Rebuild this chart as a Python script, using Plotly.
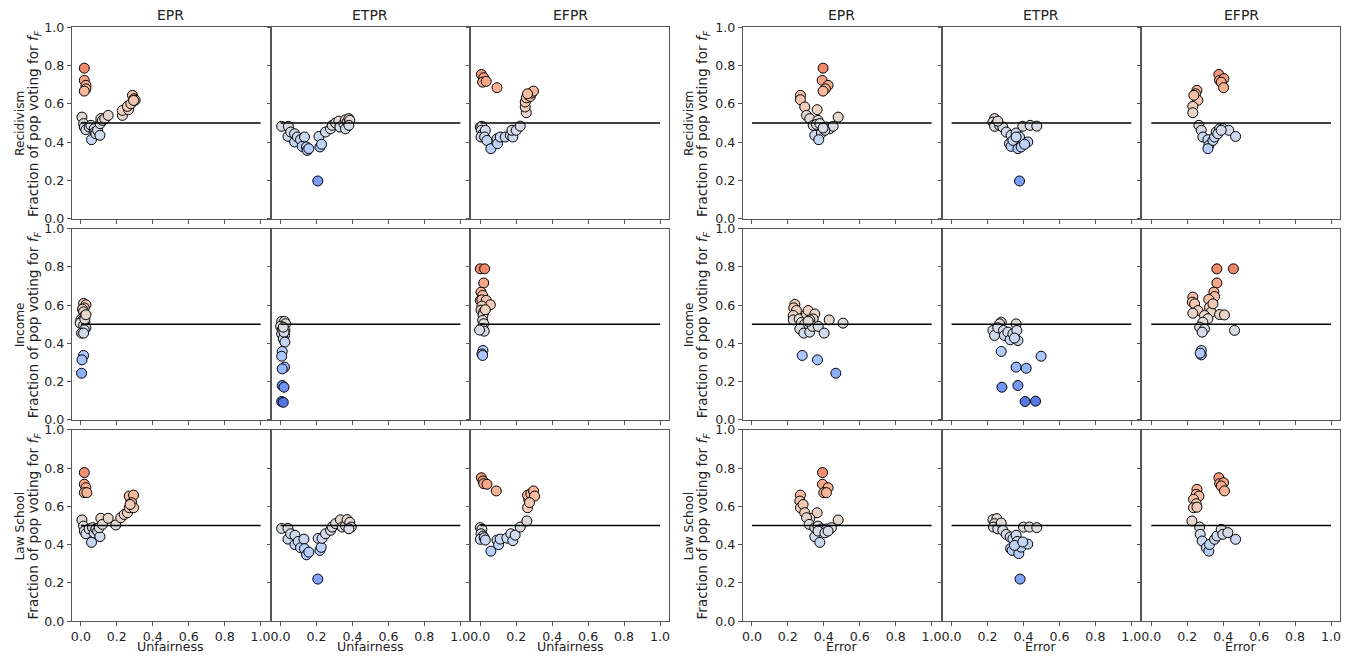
import plotly.graph_objects as go

# ---------------- data ----------------
datasets = ["Recidivism", "Income", "Law School"]
metrics = ["EPR", "ETPR", "EFPR"]
x_titles = ["Unfairness", "Error"]
tick_vals = [0.0, 0.2, 0.4, 0.6, 0.8, 1.0]
reference_level = 0.5
reference_x = [0.0, 1.0]

# Recidivism
rec_epr_unf_x = [0.019, 0.019, 0.028, 0.028, 0.019, 0.006, 0.015, 0.019, 0.028, 0.046, 0.056, 0.059, 0.074, 0.078, 0.083, 0.093, 0.106, 0.107, 0.111, 0.120, 0.133, 0.152, 0.231, 0.231, 0.265, 0.259, 0.278, 0.287, 0.296, 0.302, 0.293]
rec_epr_unf_y = [0.787, 0.723, 0.697, 0.679, 0.667, 0.531, 0.497, 0.479, 0.465, 0.479, 0.488, 0.413, 0.470, 0.453, 0.444, 0.462, 0.436, 0.497, 0.523, 0.514, 0.523, 0.540, 0.540, 0.566, 0.570, 0.587, 0.601, 0.645, 0.627, 0.619, 0.618]
rec_epr_err_x = [0.396, 0.391, 0.424, 0.409, 0.396, 0.270, 0.270, 0.294, 0.363, 0.304, 0.322, 0.480, 0.368, 0.341, 0.359, 0.378, 0.415, 0.433, 0.452, 0.350, 0.387, 0.372, 0.406, 0.396]
rec_epr_err_y = [0.787, 0.723, 0.697, 0.679, 0.667, 0.645, 0.622, 0.584, 0.570, 0.540, 0.523, 0.531, 0.514, 0.488, 0.493, 0.497, 0.479, 0.470, 0.483, 0.436, 0.448, 0.413, 0.462, 0.474]

rec_etpr_unf_x = [0.006, 0.043, 0.041, 0.056, 0.078, 0.078, 0.093, 0.111, 0.120, 0.133, 0.144, 0.148, 0.157, 0.207, 0.213, 0.219, 0.228, 0.250, 0.278, 0.287, 0.306, 0.324, 0.330, 0.352, 0.361, 0.370, 0.380, 0.385, 0.361, 0.380]
rec_etpr_unf_y = [0.483, 0.483, 0.430, 0.453, 0.444, 0.401, 0.427, 0.413, 0.378, 0.427, 0.375, 0.357, 0.366, 0.197, 0.430, 0.375, 0.389, 0.453, 0.470, 0.488, 0.500, 0.510, 0.479, 0.497, 0.517, 0.505, 0.523, 0.514, 0.470, 0.488]
rec_etpr_err_x = [0.239, 0.230, 0.248, 0.239, 0.267, 0.285, 0.304, 0.331, 0.359, 0.378, 0.322, 0.331, 0.369, 0.387, 0.424, 0.396, 0.437, 0.474, 0.378, 0.341, 0.359, 0.406, 0.257]
rec_etpr_err_y = [0.523, 0.505, 0.497, 0.483, 0.488, 0.479, 0.453, 0.436, 0.448, 0.427, 0.392, 0.378, 0.366, 0.375, 0.401, 0.483, 0.488, 0.484, 0.197, 0.409, 0.427, 0.389, 0.510]

rec_efpr_unf_x = [0.006, 0.019, 0.013, 0.033, 0.093, 0.000, 0.009, 0.006, 0.015, 0.004, 0.028, 0.024, 0.037, 0.059, 0.093, 0.096, 0.111, 0.139, 0.167, 0.181, 0.176, 0.200, 0.222, 0.256, 0.250, 0.250, 0.256, 0.269, 0.278, 0.287, 0.296, 0.263]
rec_efpr_unf_y = [0.754, 0.737, 0.714, 0.718, 0.685, 0.479, 0.483, 0.462, 0.444, 0.427, 0.462, 0.427, 0.409, 0.366, 0.418, 0.392, 0.427, 0.427, 0.436, 0.427, 0.462, 0.462, 0.484, 0.554, 0.584, 0.610, 0.632, 0.645, 0.639, 0.657, 0.667, 0.653]
rec_efpr_err_x = [0.376, 0.380, 0.404, 0.389, 0.402, 0.254, 0.246, 0.259, 0.237, 0.231, 0.231, 0.265, 0.278, 0.287, 0.315, 0.320, 0.315, 0.343, 0.352, 0.361, 0.380, 0.398, 0.431, 0.469, 0.370, 0.389]
rec_efpr_err_y = [0.754, 0.723, 0.732, 0.714, 0.685, 0.671, 0.653, 0.619, 0.645, 0.587, 0.554, 0.488, 0.462, 0.427, 0.413, 0.383, 0.366, 0.409, 0.427, 0.453, 0.470, 0.470, 0.462, 0.430, 0.444, 0.462]

# Income
inc_epr_unf_x = [0.015, 0.028, 0.019, 0.009, 0.015, 0.019, 0.000, 0.009, 0.022, -0.004, 0.015, 0.028, 0.019, 0.004, 0.015, 0.015, 0.006, 0.004, 0.022, 0.028]
inc_epr_unf_y = [0.609, 0.602, 0.586, 0.579, 0.565, 0.543, 0.525, 0.520, 0.511, 0.506, 0.494, 0.482, 0.471, 0.454, 0.454, 0.337, 0.314, 0.244, 0.527, 0.550]
inc_epr_err_x = [0.239, 0.233, 0.248, 0.230, 0.230, 0.263, 0.276, 0.304, 0.313, 0.350, 0.341, 0.322, 0.294, 0.267, 0.289, 0.322, 0.337, 0.369, 0.402, 0.430, 0.507, 0.280, 0.365, 0.467, 0.313]
inc_epr_err_y = [0.604, 0.586, 0.572, 0.546, 0.523, 0.528, 0.510, 0.554, 0.572, 0.554, 0.528, 0.523, 0.501, 0.476, 0.454, 0.459, 0.489, 0.489, 0.454, 0.523, 0.506, 0.337, 0.314, 0.244, 0.516]

inc_etpr_unf_x = [0.006, 0.022, 0.028, 0.000, 0.009, 0.024, 0.006, 0.022, 0.015, 0.024, 0.009, 0.006, 0.022, 0.009, 0.009, 0.019, 0.006, 0.015, 0.019, 0.015]
inc_etpr_unf_y = [0.515, 0.515, 0.503, 0.489, 0.471, 0.468, 0.450, 0.442, 0.424, 0.407, 0.358, 0.333, 0.276, 0.267, 0.180, 0.171, 0.096, 0.092, 0.459, 0.485]
inc_etpr_err_x = [0.276, 0.267, 0.230, 0.239, 0.257, 0.289, 0.294, 0.313, 0.326, 0.341, 0.359, 0.363, 0.369, 0.350, 0.276, 0.498, 0.359, 0.415, 0.280, 0.369, 0.409, 0.467]
inc_etpr_err_y = [0.511, 0.502, 0.468, 0.442, 0.482, 0.468, 0.442, 0.459, 0.419, 0.450, 0.502, 0.468, 0.415, 0.428, 0.358, 0.333, 0.276, 0.270, 0.171, 0.180, 0.096, 0.098]

inc_efpr_unf_x = [0.000, 0.024, 0.019, 0.004, 0.013, 0.000, 0.009, 0.033, 0.056, 0.009, 0.004, 0.019, 0.015, 0.028, 0.013, 0.019, 0.004, 0.015, 0.022, 0.015, 0.009, 0.013, -0.004]
inc_efpr_unf_y = [0.790, 0.790, 0.716, 0.668, 0.651, 0.625, 0.628, 0.625, 0.602, 0.595, 0.574, 0.565, 0.548, 0.576, 0.520, 0.503, 0.477, 0.477, 0.464, 0.363, 0.345, 0.337, 0.470]
inc_efpr_err_x = [0.365, 0.457, 0.365, 0.348, 0.352, 0.320, 0.231, 0.228, 0.241, 0.259, 0.231, 0.324, 0.333, 0.343, 0.380, 0.407, 0.296, 0.315, 0.287, 0.269, 0.296, 0.283, 0.463, 0.278, 0.278, 0.272]
inc_efpr_err_y = [0.790, 0.790, 0.716, 0.668, 0.645, 0.630, 0.642, 0.616, 0.607, 0.572, 0.558, 0.589, 0.564, 0.607, 0.551, 0.549, 0.546, 0.529, 0.511, 0.485, 0.476, 0.459, 0.468, 0.363, 0.340, 0.349]

# Law School
law_epr_unf_x = [0.019, 0.019, 0.028, 0.019, 0.033, 0.006, 0.015, 0.019, 0.028, 0.046, 0.059, 0.065, 0.074, 0.083, 0.093, 0.106, 0.102, 0.111, 0.120, 0.152, 0.194, 0.222, 0.241, 0.259, 0.269, 0.278, 0.269, 0.293, 0.283, 0.293, 0.274]
law_epr_unf_y = [0.777, 0.716, 0.698, 0.672, 0.672, 0.529, 0.497, 0.471, 0.457, 0.482, 0.412, 0.489, 0.462, 0.482, 0.471, 0.442, 0.489, 0.538, 0.506, 0.538, 0.503, 0.541, 0.558, 0.567, 0.593, 0.628, 0.654, 0.659, 0.619, 0.593, 0.610]
law_epr_err_x = [0.393, 0.393, 0.424, 0.400, 0.415, 0.270, 0.267, 0.270, 0.285, 0.294, 0.363, 0.322, 0.304, 0.319, 0.480, 0.350, 0.368, 0.387, 0.415, 0.443, 0.350, 0.368, 0.378, 0.406, 0.424]
law_epr_err_y = [0.777, 0.716, 0.698, 0.672, 0.672, 0.659, 0.628, 0.593, 0.610, 0.567, 0.567, 0.538, 0.541, 0.506, 0.529, 0.489, 0.497, 0.482, 0.482, 0.489, 0.442, 0.471, 0.412, 0.462, 0.471]

law_etpr_unf_x = [0.006, 0.041, 0.041, 0.056, 0.080, 0.080, 0.098, 0.111, 0.130, 0.133, 0.144, 0.157, 0.207, 0.209, 0.219, 0.226, 0.231, 0.250, 0.278, 0.287, 0.306, 0.333, 0.343, 0.361, 0.370, 0.385, 0.393, 0.380]
law_etpr_unf_y = [0.485, 0.485, 0.429, 0.457, 0.449, 0.400, 0.417, 0.384, 0.429, 0.379, 0.347, 0.361, 0.220, 0.433, 0.370, 0.386, 0.433, 0.457, 0.475, 0.492, 0.510, 0.530, 0.492, 0.499, 0.531, 0.517, 0.492, 0.483]
law_etpr_err_x = [0.230, 0.252, 0.239, 0.233, 0.257, 0.276, 0.285, 0.304, 0.326, 0.341, 0.359, 0.365, 0.328, 0.337, 0.374, 0.387, 0.424, 0.400, 0.433, 0.474, 0.381, 0.350, 0.396]
law_etpr_err_y = [0.531, 0.536, 0.510, 0.492, 0.483, 0.513, 0.475, 0.454, 0.440, 0.431, 0.449, 0.417, 0.379, 0.370, 0.353, 0.387, 0.403, 0.492, 0.492, 0.489, 0.220, 0.396, 0.414]

law_efpr_unf_x = [0.006, 0.015, 0.019, 0.037, 0.089, 0.000, 0.009, 0.004, 0.015, 0.000, 0.022, 0.028, 0.059, 0.093, 0.102, 0.111, 0.148, 0.170, 0.181, 0.194, 0.222, 0.259, 0.263, 0.269, 0.263, 0.281, 0.296, 0.302, 0.274]
law_efpr_unf_y = [0.750, 0.733, 0.719, 0.716, 0.681, 0.489, 0.480, 0.457, 0.445, 0.428, 0.436, 0.424, 0.366, 0.424, 0.400, 0.429, 0.434, 0.457, 0.421, 0.450, 0.492, 0.524, 0.593, 0.637, 0.659, 0.666, 0.681, 0.654, 0.620]
law_efpr_err_x = [0.376, 0.380, 0.402, 0.389, 0.407, 0.254, 0.250, 0.265, 0.235, 0.250, 0.235, 0.254, 0.226, 0.269, 0.272, 0.283, 0.306, 0.320, 0.324, 0.352, 0.365, 0.389, 0.398, 0.426, 0.469]
law_efpr_err_y = [0.750, 0.719, 0.724, 0.707, 0.681, 0.689, 0.663, 0.654, 0.637, 0.614, 0.593, 0.596, 0.524, 0.492, 0.454, 0.419, 0.384, 0.366, 0.401, 0.428, 0.445, 0.480, 0.454, 0.463, 0.428]

panel_data = {
    ("Recidivism", "EPR"): [(rec_epr_unf_x, rec_epr_unf_y), (rec_epr_err_x, rec_epr_err_y)],
    ("Recidivism", "ETPR"): [(rec_etpr_unf_x, rec_etpr_unf_y), (rec_etpr_err_x, rec_etpr_err_y)],
    ("Recidivism", "EFPR"): [(rec_efpr_unf_x, rec_efpr_unf_y), (rec_efpr_err_x, rec_efpr_err_y)],
    ("Income", "EPR"): [(inc_epr_unf_x, inc_epr_unf_y), (inc_epr_err_x, inc_epr_err_y)],
    ("Income", "ETPR"): [(inc_etpr_unf_x, inc_etpr_unf_y), (inc_etpr_err_x, inc_etpr_err_y)],
    ("Income", "EFPR"): [(inc_efpr_unf_x, inc_efpr_unf_y), (inc_efpr_err_x, inc_efpr_err_y)],
    ("Law School", "EPR"): [(law_epr_unf_x, law_epr_unf_y), (law_epr_err_x, law_epr_err_y)],
    ("Law School", "ETPR"): [(law_etpr_unf_x, law_etpr_unf_y), (law_etpr_err_x, law_etpr_err_y)],
    ("Law School", "EFPR"): [(law_efpr_unf_x, law_efpr_unf_y), (law_efpr_err_x, law_efpr_err_y)],
}

# ---------------- style ----------------
coolwarm = [
    (59, 76, 192), (68, 90, 204), (77, 104, 215), (87, 117, 225), (98, 130, 234),
    (108, 142, 241), (119, 154, 247), (130, 165, 251), (141, 176, 254), (152, 185, 255),
    (163, 194, 255), (174, 201, 253), (184, 208, 249), (194, 213, 244), (204, 217, 238),
    (213, 219, 230), (221, 221, 221), (229, 216, 209), (236, 211, 197), (241, 204, 184),
    (245, 196, 172), (247, 187, 159), (247, 177, 147), (247, 166, 134), (244, 154, 123),
    (241, 141, 111), (236, 127, 99), (229, 112, 89), (222, 96, 77), (213, 80, 66),
    (203, 62, 56), (192, 40, 47), (180, 4, 38)]
n = len(coolwarm) - 1
colorscale = [[i / n, "rgb(%d,%d,%d)" % c] for i, c in enumerate(coolwarm)]

W, H = 1354, 658
FONT = "DejaVu Sans, Verdana, sans-serif"
TICK_SIZE = 12.6
XLABEL_SIZE = 12.6
NAME_SIZE = 12.2
FRAC_SIZE = 13.6
TITLE_SIZE = 14
INK = "#222"

# the captured page shows the figure slightly squeezed vertically; compensate
Y_OFF, Y_SCALE = 7.6, 0.976


def fy(py):
    """target picture pixel row -> figure pixel row"""
    return (py - Y_OFF) / Y_SCALE


col_px = [(71, 269), (271, 469), (471, 669), (743, 941), (943, 1141), (1143, 1341)]
row_px = [(27, 218), (228, 419), (429, 620)]
spine = "#555555"

fig = go.Figure()
layout = {}
annotations = []

for r, ds in enumerate(datasets):
    for g in range(2):
        for m, met in enumerate(metrics):
            col = g * 3 + m
            idx = r * 6 + col + 1
            xs, ys = panel_data[(ds, met)][g]
            xa = "x%d" % idx
            ya = "y%d" % idx
            fig.add_trace(go.Scatter(
                x=xs, y=ys, mode="markers", xaxis=xa, yaxis=ya,
                marker=dict(size=10, color=ys, colorscale=colorscale, cmin=0, cmax=1,
                            line=dict(color="black", width=1)),
                showlegend=False, hoverinfo="skip"))
            fig.add_trace(go.Scatter(
                x=reference_x, y=[reference_level, reference_level], mode="lines",
                xaxis=xa, yaxis=ya, line=dict(color="black", width=1.5),
                showlegend=False, hoverinfo="skip"))
            x0, x1 = col_px[col]
            y0, y1 = fy(row_px[r][0]), fy(row_px[r][1])
            layout["xaxis%d" % idx] = dict(
                domain=[x0 / W, x1 / W], range=[-0.05, 1.05], anchor=ya,
                showline=True, mirror=True, linecolor=spine, linewidth=1,
                ticks="outside", ticklen=4, tickcolor=spine, tickwidth=1,
                tickvals=tick_vals, ticktext=["%.1f" % v for v in tick_vals],
                showticklabels=(r == 2), showgrid=False, zeroline=False,
                tickfont=dict(family=FONT, size=TICK_SIZE, color=INK))
            layout["yaxis%d" % idx] = dict(
                domain=[1 - y1 / H, 1 - y0 / H], range=[0, 1], anchor=xa,
                showline=True, mirror=True, linecolor=spine, linewidth=1,
                ticks="outside", ticklen=4, tickcolor=spine, tickwidth=1,
                tickvals=tick_vals, ticktext=["%.1f" % v for v in tick_vals],
                showticklabels=(m == 0), showgrid=False, zeroline=False,
                tickfont=dict(family=FONT, size=TICK_SIZE, color=INK))
            if r == 0:
                annotations.append(dict(
                    text=met, x=(x0 + x1) / 2 / W, y=1 - fy(15) / H, xref="paper", yref="paper",
                    showarrow=False, xanchor="center", yanchor="middle",
                    font=dict(family=FONT, size=TITLE_SIZE, color=INK)))
            if r == 2:
                annotations.append(dict(
                    text=x_titles[g], x=(x0 + x1) / 2 / W, y=1 - fy(645) / H, xref="paper", yref="paper",
                    showarrow=False, xanchor="center", yanchor="middle",
                    font=dict(family=FONT, size=XLABEL_SIZE, color=INK)))
            if m == 0:
                yc = 1 - fy((row_px[r][0] + row_px[r][1]) / 2) / H
                base = 19 if g == 0 else 689
                annotations.append(dict(
                    text=ds, x=base / W, y=yc, xref="paper", yref="paper",
                    showarrow=False, xanchor="center", yanchor="middle", textangle=-90,
                    font=dict(family=FONT, size=NAME_SIZE, color=INK)))
                annotations.append(dict(
                    text="Fraction of pop voting for <i>f</i><sub><i>F</i></sub>",
                    x=(base + 14) / W, y=yc, xref="paper", yref="paper",
                    showarrow=False, xanchor="center", yanchor="middle", textangle=-90,
                    font=dict(family=FONT, size=FRAC_SIZE, color=INK)))

fig.update_layout(
    width=W, height=H, margin=dict(l=0, r=0, t=0, b=0),
    paper_bgcolor="white", plot_bgcolor="white",
    font=dict(family=FONT, size=12, color=INK),
    annotations=annotations, **layout)

post = (
    "var gd=document.getElementById('{plot_id}');"
    "document.documentElement.style.margin='0';document.documentElement.style.padding='0';"
    "document.documentElement.style.overflow='hidden';"
    "document.body.style.margin='0';document.body.style.padding='0';document.body.style.overflow='hidden';"
    "gd.style.position='fixed';gd.style.top='0px';gd.style.left='0px';"
)
fig.write_html("out.html", config={"displayModeBar": False}, post_script=post)
